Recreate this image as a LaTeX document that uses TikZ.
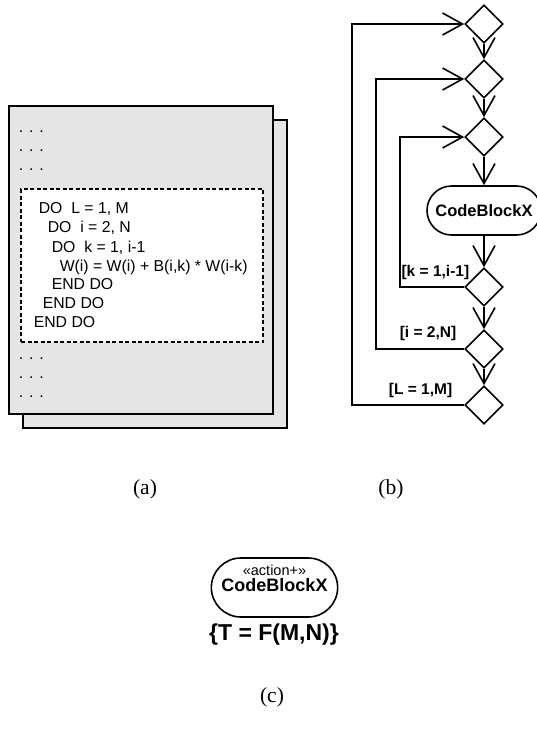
\documentclass[tikz,border=0pt]{standalone}
\usepackage{fontspec}
\setmainfont{Liberation Sans}
\newfontfamily\serifcap{Liberation Serif}
\usepackage{tikz}
\usetikzlibrary{shapes,arrows.meta}
\definecolor{pagegray}{gray}{0.9}

\begin{document}
\begin{tikzpicture}[x=1pt,y=-1pt,line width=1.6pt,
  page/.style={draw,fill=pagegray,inner sep=0pt,minimum width=264pt,minimum height=308pt},
  region/.style={draw,fill=white,dash pattern=on 4pt off 2.5pt,line width=1.2pt,inner sep=0pt,
    minimum width=242pt,minimum height=153pt},
  code/.style={anchor=base west,inner sep=0pt,font=\fontsize{15.8}{18}\selectfont},
  choice/.style={draw,diamond,inner sep=0pt,minimum width=38pt,minimum height=38pt},
  activity/.style={draw,rounded rectangle,inner sep=0pt,font=\fontsize{16.5}{20}\selectfont\bfseries},
  guard/.style={anchor=east,inner sep=0pt,font=\fontsize{15.5}{18}\selectfont\bfseries},
  flow/.style={-{Straight Barb[length=20pt,width=22pt]}},
  caption/.style={font=\fontsize{21.5}{24}\selectfont\serifcap}]
\useasboundingbox (0,0) rectangle (537,731);

\node[page] (back) at (155,274) {};
\node[page] (front) at (141,260) {};
\node[region] (loop) at (142,265.5) {};
\foreach \y [count=\i] in {132.5,151.5,170.5,359.5,378.5,397}
  \node[code] (dots\i) at (18,\y) {. . .};
\node[code] (doL) at (38,213.5) {DO\ \ L = 1, M};
\node[code] (doi) at (47,232.5) {DO\ \ i = 2, N};
\node[code] (dok) at (51,252.5) {DO\ \ k = 1, i-1};
\node[code] (body) at (59,271.5) {W(i) = W(i) + B(i,k) * W(i-k)};
\node[code] (endk) at (51,289.5) {END DO};
\node[code] (endi) at (42,308.5) {END DO};
\node[code] (endL) at (33,327.5) {END DO};

\node[choice] (d1) at (484,24) {};
\node[choice] (d2) at (484,79) {};
\node[choice] (d3) at (484,137) {};
\node[activity,minimum width=114pt,minimum height=49pt] (cbx) at (484,210.5) {CodeBlockX};
\node[choice] (d4) at (484,287) {};
\node[choice] (d5) at (484,349) {};
\node[choice] (d6) at (484,405) {};
\draw[flow] (d1.south) -- (d2.north);
\draw[flow] (d2.south) -- (d3.north);
\draw[flow] (d3.south) -- (cbx.north);
\draw[flow] (cbx.south) -- (d4.north);
\draw[flow] (d4.south) -- (d5.north);
\draw[flow] (d5.south) -- (d6.north);
\draw[flow] (d4.west) -- ++(-64,0) |- (d3.west);
\draw[flow] (d5.west) -- ++(-88,0) |- (d2.west);
\draw[flow] (d6.west) -- ++(-112,0) |- (d1.west);
\node[guard] (gk) at (470,272) {[k = 1,i-1]};
\node[guard] (gi) at (457,333) {[i = 2,N]};
\node[guard] (gL) at (453,390) {[L = 1,M]};

\node[activity,minimum width=125pt,minimum height=59pt,align=center,text depth=18pt] (act) at (274.5,587.5)
  {{\fontsize{14.5}{15}\selectfont\mdseries «action+»}\\[-4pt]{\fontsize{18}{18}\selectfont CodeBlockX}};
\node[font=\fontsize{23}{26}\selectfont\bfseries] (cost) at (274,635) {\{T = F(M,N)\}};

\node[caption] (capa) at (145,489) {(a)};
\node[caption] (capb) at (391,489) {(b)};
\node[caption] (capc) at (272,697) {(c)};
\end{tikzpicture}
\end{document}
